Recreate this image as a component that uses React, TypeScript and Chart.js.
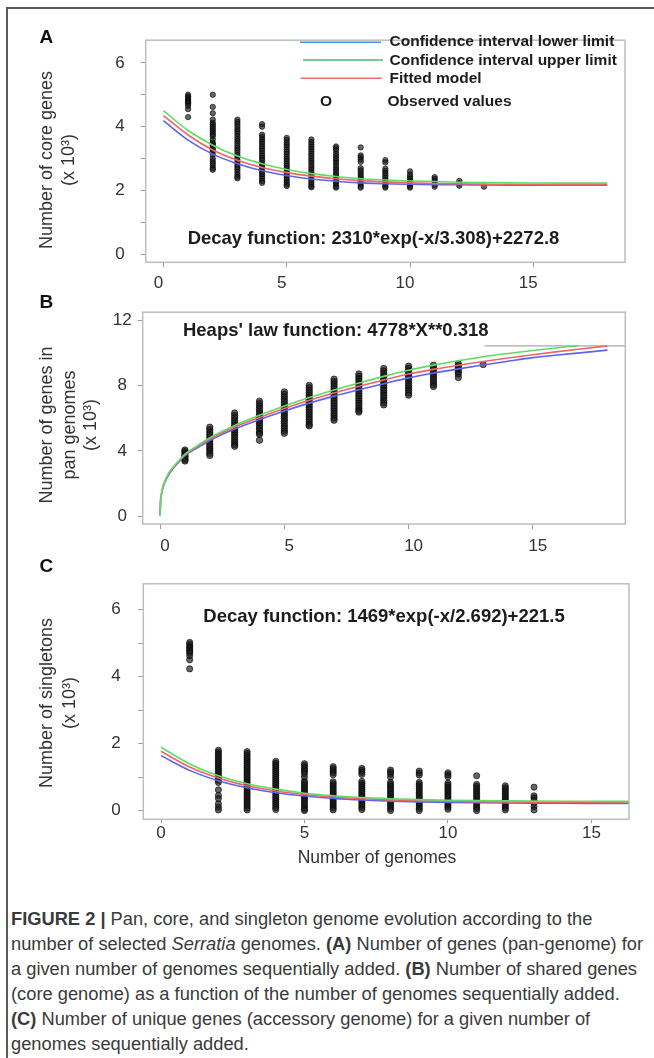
import React, { useEffect, useRef } from 'react';
import { Chart, registerables } from 'chart.js';

Chart.register(...registerables);

const FONT = '"Liberation Sans", Arial, Helvetica, sans-serif';

// ---------- shared ----------
const genomeCounts = [1, 2, 3, 4, 5, 6, 7, 8, 9, 10, 11, 12, 13];
const curveX = [0, 1, 2, 3, 4, 5, 6, 7, 8, 9, 10, 11, 12, 13, 14, 15, 16, 17, 18];
const xTickValues = [0, 5, 10, 15];
const xTickLabels = ['0', '5', '10', '15'];

// ---------- Panel A : core genes (x 10^3) ----------
const coreYTicks = [0, 1, 2, 3, 4, 5, 6];
const coreYLabels = ['0', '', '2', '', '4', '', '6'];
const coreObserved = [
  [5.0, 4.95, 4.9, 4.85, 4.8, 4.76, 4.72, 4.65, 4.55, 4.3],
  [5.0, 4.62, 4.42, 4.22, 4.12, 4.06, 4.0, 3.94, 3.88, 3.82, 3.76, 3.7, 3.6, 3.5, 3.45, 3.4, 3.34, 3.28, 3.22, 3.12, 3.0, 2.92, 2.85, 2.78, 2.7, 2.65],
  [4.22, 4.15, 4.08, 4.0, 3.92, 3.85, 3.78, 3.7, 3.62, 3.55, 3.48, 3.4, 3.33, 3.26, 3.18, 3.1, 3.03, 2.96, 2.88, 2.8, 2.73, 2.66, 2.58, 2.5, 2.43, 2.38],
  [4.08, 4.0, 3.75, 3.68, 3.6, 3.53, 3.46, 3.38, 3.31, 3.24, 3.16, 3.09, 3.02, 2.95, 2.87, 2.8, 2.73, 2.66, 2.58, 2.51, 2.44, 2.37, 2.3, 2.24],
  [3.65, 3.58, 3.5, 3.43, 3.36, 3.28, 3.21, 3.14, 3.06, 2.99, 2.92, 2.84, 2.77, 2.7, 2.62, 2.55, 2.48, 2.4, 2.33, 2.26, 2.19, 2.14],
  [3.6, 3.52, 3.45, 3.37, 3.3, 3.23, 3.15, 3.08, 3.0, 2.93, 2.86, 2.78, 2.71, 2.64, 2.56, 2.49, 2.42, 2.34, 2.27, 2.2, 2.13, 2.1],
  [3.38, 3.32, 3.25, 3.15, 3.08, 3.0, 2.93, 2.86, 2.78, 2.71, 2.64, 2.56, 2.49, 2.42, 2.34, 2.27, 2.2, 2.13, 2.09],
  [3.35, 3.1, 3.04, 2.97, 2.9, 2.7, 2.63, 2.56, 2.49, 2.42, 2.35, 2.28, 2.21, 2.14, 2.09],
  [2.95, 2.88, 2.68, 2.61, 2.54, 2.47, 2.4, 2.33, 2.26, 2.19, 2.13, 2.09],
  [2.6, 2.5, 2.43, 2.37, 2.31, 2.25, 2.19, 2.13, 2.09],
  [2.42, 2.36, 2.3, 2.24, 2.18, 2.12],
  [2.3, 2.22, 2.15],
  [2.12],
];
const coreLower = [4.19, 3.58, 3.14, 2.84, 2.62, 2.47, 2.36, 2.29, 2.24, 2.21, 2.195, 2.185, 2.18, 2.175, 2.17, 2.17, 2.17, 2.17, 2.17];
const coreUpper = [4.5, 3.88, 3.42, 3.08, 2.84, 2.66, 2.53, 2.44, 2.37, 2.33, 2.3, 2.28, 2.26, 2.25, 2.24, 2.235, 2.23, 2.23, 2.23];
const coreFitted = [4.35, 3.74, 3.27, 2.95, 2.72, 2.56, 2.45, 2.37, 2.31, 2.27, 2.24, 2.22, 2.21, 2.2, 2.19, 2.19, 2.18, 2.18, 2.18];

// ---------- Panel B : pan genome (x 10^3) ----------
const panYTicks = [0, 4, 8, 12];
const panYLabels = ['0', '4', '8', '12'];
const panObserved = [
  [4.05, 3.95, 3.85, 3.75, 3.65, 3.55, 3.45, 3.38],
  [5.45, 5.3, 5.15, 5.0, 4.85, 4.7, 4.55, 4.4, 4.25, 4.12, 4.0, 3.85, 3.72],
  [6.32, 6.17, 6.02, 5.87, 5.72, 5.57, 5.42, 5.27, 5.12, 4.97, 4.82, 4.67, 4.52, 4.38, 4.28],
  [7.05, 6.9, 6.75, 6.6, 6.45, 6.3, 6.15, 6.0, 5.85, 5.7, 5.55, 5.4, 5.25, 5.1, 5.02, 4.65],
  [7.62, 7.47, 7.32, 7.17, 7.02, 6.87, 6.72, 6.57, 6.42, 6.27, 6.12, 5.97, 5.82, 5.67, 5.52, 5.37, 5.22, 5.08],
  [8.02, 7.87, 7.72, 7.57, 7.42, 7.27, 7.12, 6.97, 6.82, 6.67, 6.52, 6.37, 6.22, 6.07, 5.92, 5.77, 5.62, 5.53],
  [8.4, 8.25, 8.1, 7.95, 7.8, 7.65, 7.5, 7.35, 7.2, 7.05, 6.9, 6.75, 6.6, 6.45, 6.3, 6.15, 6.0, 5.88],
  [8.72, 8.57, 8.42, 8.27, 8.12, 7.97, 7.82, 7.67, 7.52, 7.37, 7.22, 7.07, 6.92, 6.77, 6.62, 6.48, 6.38],
  [9.05, 8.9, 8.75, 8.6, 8.45, 8.3, 8.15, 8.0, 7.85, 7.7, 7.55, 7.4, 7.25, 7.1, 6.95, 6.82],
  [9.2, 9.05, 8.9, 8.75, 8.6, 8.45, 8.3, 8.15, 8.0, 7.85, 7.7, 7.55, 7.42],
  [9.26, 9.11, 8.96, 8.81, 8.66, 8.51, 8.36, 8.21, 8.06, 7.95],
  [9.35, 9.22, 9.1, 8.98, 8.85, 8.7, 8.5],
  [9.3],
];
const panCurveX = [0, 0.02, 0.05, 0.1, 0.2, 0.35, 0.5, 0.75, 1, 1.5, 2, 3, 4, 5, 6, 7, 8, 9, 10, 11, 12, 13, 14, 15, 16, 17, 18];
const panFitted = [0, 0.95, 1.3, 1.7, 2.15, 2.6, 2.92, 3.35, 3.75, 4.25, 4.72, 5.45, 6.05, 6.6, 7.1, 7.55, 7.96, 8.35, 8.72, 9.0, 9.25, 9.48, 9.7, 9.9, 10.09, 10.27, 10.44];
const panLower = [0, 0.93, 1.27, 1.66, 2.1, 2.55, 2.87, 3.3, 3.7, 4.18, 4.64, 5.34, 5.92, 6.45, 6.93, 7.36, 7.75, 8.12, 8.48, 8.77, 9.03, 9.27, 9.5, 9.72, 9.88, 10.03, 10.18];
const panUpperX = [0, 0.02, 0.05, 0.1, 0.2, 0.35, 0.5, 0.75, 1, 1.5, 2, 3, 4, 5, 6, 7, 8, 9, 10, 11, 12, 13, 14, 15, 16, 16.8];
const panUpper = [0, 0.97, 1.33, 1.73, 2.18, 2.64, 2.96, 3.4, 3.8, 4.32, 4.8, 5.56, 6.18, 6.75, 7.27, 7.74, 8.16, 8.57, 8.95, 9.26, 9.53, 9.78, 9.98, 10.16, 10.33, 10.44];
const panRefLineX = [13.05, 18.72];
const panRefLineY = [10.44, 10.44];

// ---------- Panel C : singletons (x 10^3) ----------
const singletonYTicks = [0, 1, 2, 3, 4, 5, 6];
const singletonYLabels = ['0', '', '2', '', '4', '', '6'];
const singletonObserved = [
  [5.02, 4.96, 4.9, 4.85, 4.8, 4.75, 4.7, 4.62, 4.5, 4.23],
  [1.8, 1.74, 1.68, 1.62, 1.56, 1.5, 1.44, 1.38, 1.32, 1.26, 1.2, 1.14, 1.08, 1.02, 0.96, 0.9, 0.84, 0.62, 0.45, 0.36, 0.2, 0.1, 0.02],
  [1.76, 1.7, 1.64, 1.58, 1.52, 1.46, 1.4, 1.34, 1.28, 1.22, 1.16, 1.1, 1.04, 0.98, 0.92, 0.86, 0.8, 0.74, 0.68, 0.62, 0.56, 0.5, 0.44, 0.38, 0.32, 0.26, 0.2, 0.14, 0.08, 0.02],
  [1.47, 1.41, 1.35, 1.29, 1.23, 1.17, 1.11, 1.05, 0.99, 0.93, 0.87, 0.81, 0.75, 0.69, 0.63, 0.57, 0.51, 0.45, 0.39, 0.33, 0.27, 0.21, 0.15, 0.09, 0.03],
  [1.4, 1.34, 1.28, 1.22, 1.16, 1.1, 1.0, 0.88, 0.82, 0.76, 0.7, 0.64, 0.58, 0.52, 0.46, 0.4, 0.34, 0.28, 0.22, 0.16, 0.1, 0.04, 0.0],
  [1.31, 1.25, 1.19, 1.13, 1.07, 0.86, 0.8, 0.74, 0.68, 0.62, 0.56, 0.5, 0.44, 0.38, 0.32, 0.26, 0.2, 0.14, 0.08, 0.02],
  [1.26, 1.2, 1.14, 1.08, 0.87, 0.81, 0.75, 0.69, 0.63, 0.57, 0.51, 0.45, 0.39, 0.33, 0.27, 0.21, 0.15, 0.09, 0.03],
  [1.21, 1.15, 1.09, 1.0, 0.84, 0.78, 0.72, 0.66, 0.6, 0.54, 0.48, 0.42, 0.36, 0.3, 0.24, 0.18, 0.12, 0.06, 0.0],
  [1.18, 1.12, 1.06, 0.84, 0.78, 0.72, 0.66, 0.6, 0.54, 0.48, 0.42, 0.36, 0.3, 0.24, 0.18, 0.12, 0.06, 0.0],
  [1.13, 1.07, 1.01, 0.82, 0.76, 0.7, 0.64, 0.58, 0.52, 0.46, 0.4, 0.34, 0.28, 0.22, 0.16, 0.1, 0.04],
  [1.04, 0.78, 0.72, 0.66, 0.6, 0.54, 0.48, 0.42, 0.36, 0.3, 0.24, 0.18, 0.12, 0.06, 0.0],
  [0.74, 0.68, 0.62, 0.56, 0.5, 0.44, 0.38, 0.32, 0.26, 0.2, 0.14, 0.08, 0.02],
  [0.7, 0.44, 0.38, 0.3, 0.22, 0.12, 0.02],
];
const singletonLower = [1.64, 1.2, 0.89, 0.68, 0.535, 0.434, 0.365, 0.317, 0.284, 0.261, 0.245, 0.234, 0.227, 0.222, 0.219, 0.216, 0.215, 0.214, 0.213];
const singletonUpper = [1.89, 1.39, 1.04, 0.8, 0.64, 0.52, 0.445, 0.39, 0.354, 0.328, 0.31, 0.298, 0.289, 0.283, 0.279, 0.277, 0.275, 0.274, 0.273];
const singletonFitted = [1.77, 1.3, 0.97, 0.74, 0.587, 0.48, 0.405, 0.354, 0.319, 0.294, 0.277, 0.266, 0.258, 0.253, 0.249, 0.247, 0.245, 0.244, 0.243];

// ---------- styling ----------
const BLUE = '#5f63f0';
const GREEN = '#5edc66';
const RED = '#f06464';
const TEXT = '#333333';

type TextItem = { text: string; x: number; y: number; font: string; align?: CanvasTextAlign; rotate?: boolean; color?: string };
type LegendLine = { color: string; x1: number; x2: number; y: number };

const decorPlugin = {
  id: 'panelDecor',
  afterDraw(chart: any, _args: any, opts: any) {
    const { ctx, chartArea: a } = chart;
    ctx.save();
    ctx.strokeStyle = '#bdbdbd';
    ctx.lineWidth = 1.5;
    ctx.strokeRect(a.left, a.top, a.right - a.left, a.bottom - a.top);
    (opts.lines || []).forEach((l: LegendLine) => {
      ctx.beginPath();
      ctx.strokeStyle = l.color;
      ctx.lineWidth = 1.6;
      ctx.moveTo(l.x1, l.y);
      ctx.lineTo(l.x2, l.y);
      ctx.stroke();
    });
    (opts.texts || []).forEach((t: TextItem) => {
      ctx.save();
      ctx.font = t.font;
      ctx.fillStyle = t.color || TEXT;
      ctx.textAlign = t.align || 'center';
      ctx.textBaseline = 'middle';
      ctx.translate(t.x, t.y);
      if (t.rotate) ctx.rotate(-Math.PI / 2);
      ctx.fillText(t.text, 0, 0);
      ctx.restore();
    });
    ctx.restore();
  },
};

const toPoints = (xs: number[], ys: number[][]) => xs.flatMap((x, i) => ys[i].map((y) => ({ x, y })));
const toLine = (xs: number[], ys: number[]) => ys.map((y, i) => ({ x: xs[i], y }));

const lineDs = (label: string, data: any[], color: string, width = 1.6) => ({
  type: 'scatter' as const,
  label,
  data,
  showLine: true,
  borderColor: color,
  backgroundColor: color,
  borderWidth: width,
  pointRadius: 0,
  cubicInterpolationMode: 'monotone' as const,
});

const obsDs = (data: any[], radius: number) => ({
  type: 'scatter' as const,
  label: 'Observed values',
  data,
  pointRadius: radius,
  pointBorderWidth: 1,
  backgroundColor: 'rgba(30,30,30,0.68)',
  borderColor: 'rgba(0,0,0,0.6)',
});

type Spec = {
  datasets: any[];
  xMin: number; xMax: number;
  yMin: number; yMax: number;
  yTicks: number[]; yLabels: string[];
  yWidth: number; yPad: number;
  xHeight: number; xPad: number; xTickLen: number; xLabelOffset: number;
  padTop: number; padRight: number; padBottom: number;
  texts: TextItem[];
  lines?: LegendLine[];
};

function makeConfig(s: Spec): any {
  return {
    type: 'scatter',
    data: { datasets: s.datasets },
    plugins: [decorPlugin],
    options: {
      animation: false,
      responsive: false,
      devicePixelRatio: 1,
      events: [],
      layout: { padding: { left: 0, right: s.padRight, top: s.padTop, bottom: s.padBottom } },
      plugins: {
        legend: { display: false },
        tooltip: { enabled: false },
        panelDecor: { texts: s.texts, lines: s.lines || [] },
      },
      scales: {
        x: {
          type: 'linear',
          min: s.xMin,
          max: s.xMax,
          afterFit: (sc: any) => { sc.height = s.xHeight; },
          afterBuildTicks: (sc: any) => { sc.ticks = xTickValues.map((v) => ({ value: v })); },
          ticks: {
            autoSkip: false,
            maxRotation: 0,
            padding: s.xPad,
            labelOffset: s.xLabelOffset,
            color: TEXT,
            font: { family: FONT, size: 17 },
            callback: (_v: any, i: number) => xTickLabels[i],
          },
          grid: { drawOnChartArea: false, drawTicks: true, tickLength: s.xTickLen, color: '#9e9e9e', lineWidth: 1 },
          border: { display: false },
        },
        y: {
          type: 'linear',
          min: s.yMin,
          max: s.yMax,
          afterFit: (sc: any) => { sc.width = s.yWidth; },
          afterBuildTicks: (sc: any) => { sc.ticks = s.yTicks.map((v) => ({ value: v })); },
          ticks: {
            autoSkip: false,
            padding: s.yPad,
            crossAlign: 'center',
            color: TEXT,
            font: { family: FONT, size: 17 },
            callback: (_v: any, i: number) => s.yLabels[i],
          },
          grid: { drawOnChartArea: false, drawTicks: true, tickLength: 5, color: '#9e9e9e', lineWidth: 1 },
          border: { display: false },
        },
      },
    },
  };
}

const specA: Spec = {
  datasets: [
    lineDs('Confidence interval upper limit', toLine(curveX, coreUpper), GREEN),
    lineDs('Fitted model', toLine(curveX, coreFitted), RED),
    lineDs('Confidence interval lower limit', toLine(curveX, coreLower), BLUE),
    obsDs(toPoints(genomeCounts, coreObserved), 2.7),
  ],
  xMin: -0.72, xMax: 18.72, yMin: -0.25, yMax: 6.71,
  yTicks: coreYTicks, yLabels: coreYLabels, yWidth: 145.7, yPad: 16,
  xHeight: 30, xPad: 5.5, xTickLen: 5, xLabelOffset: -5,
  padTop: 16.7, padRight: 29, padBottom: 7.7,
  texts: [
    { text: 'Number of core genes', x: 47, y: 146, font: `18px ${FONT}`, rotate: true },
    { text: '(x 10³)', x: 69, y: 146, font: `18px ${FONT}`, rotate: true },
    { text: 'Decay function: 2310*exp(-x/3.308)+2272.8', x: 373.5, y: 224.5, font: `bold 18.5px ${FONT}`, color: '#1c1c1c' },
    { text: 'Confidence interval lower limit', x: 389.5, y: 28, font: `bold 15.5px ${FONT}`, align: 'left', color: '#1c1c1c' },
    { text: 'Confidence interval upper limit', x: 389.5, y: 46.5, font: `bold 15.5px ${FONT}`, align: 'left', color: '#1c1c1c' },
    { text: 'Fitted model', x: 389.5, y: 64.5, font: `bold 15.5px ${FONT}`, align: 'left', color: '#1c1c1c' },
    { text: 'O', x: 326, y: 88, font: `bold 15.5px ${FONT}`, color: '#1c1c1c' },
    { text: 'Observed values', x: 387.5, y: 88, font: `bold 15.5px ${FONT}`, align: 'left', color: '#1c1c1c' },
  ],
  lines: [
    { color: '#4a8fdc', x1: 300, x2: 381, y: 28.3 },
    { color: '#46b87a', x1: 303, x2: 383, y: 46 },
    { color: '#f06a6a', x1: 300.7, x2: 381.7, y: 64.3 },
  ],
};

const specB: Spec = {
  datasets: [
    lineDs('Confidence interval upper limit', toLine(panUpperX, panUpper), GREEN),
    lineDs('Fitted model', toLine(panCurveX, panFitted), RED),
    lineDs('Confidence interval lower limit', toLine(panCurveX, panLower), BLUE),
    lineDs('reference', toLine(panRefLineX, panRefLineY), '#a8a8a8', 1.2),
    obsDs(toPoints(genomeCounts, panObserved), 3.2),
  ],
  xMin: -0.7, xMax: 18.72, yMin: -0.49, yMax: 12.51,
  yTicks: panYTicks, yLabels: panYLabels, yWidth: 142.7, yPad: 6,
  xHeight: 32, xPad: 7.5, xTickLen: 5, xLabelOffset: 5,
  padTop: 7.3, padRight: 28.7, padBottom: 8,
  texts: [
    { text: 'Number of genes in', x: 47, y: 129, font: `18px ${FONT}`, rotate: true },
    { text: 'pan genomes', x: 70, y: 129, font: `18px ${FONT}`, rotate: true },
    { text: '(x 10³)', x: 91, y: 129, font: `18px ${FONT}`, rotate: true },
    { text: "Heaps' law function: 4778*X**0.318", x: 335.8, y: 34.7, font: `bold 18.5px ${FONT}`, color: '#1c1c1c' },
  ],
};

const specC: Spec = {
  datasets: [
    lineDs('Confidence interval upper limit', toLine(curveX, singletonUpper), GREEN),
    lineDs('Fitted model', toLine(curveX, singletonFitted), RED),
    lineDs('Confidence interval lower limit', toLine(curveX, singletonLower), BLUE),
    obsDs(toPoints(genomeCounts, singletonObserved), 3.1),
  ],
  xMin: -0.617, xMax: 16.31, yMin: -0.26, yMax: 6.77,
  yTicks: singletonYTicks, yLabels: singletonYLabels, yWidth: 143.3, yPad: 17.6,
  xHeight: 48, xPad: 0, xTickLen: 4, xLabelOffset: 0,
  padTop: 9, padRight: 25, padBottom: 8.7,
  texts: [
    { text: 'Number of singletons', x: 47, y: 147, font: `18px ${FONT}`, rotate: true },
    { text: '(x 10³)', x: 70, y: 147, font: `18px ${FONT}`, rotate: true },
    { text: 'Decay function: 1469*exp(-x/2.692)+221.5', x: 384, y: 60.7, font: `bold 18.5px ${FONT}`, color: '#1c1c1c' },
    { text: 'Number of genomes', x: 377, y: 302, font: `17.5px ${FONT}` },
  ],
};

function Panel({ top, height, spec }: { top: number; height: number; spec: Spec }) {
  const ref = useRef<HTMLCanvasElement>(null);
  useEffect(() => {
    if (!ref.current) return;
    const chart = new Chart(ref.current, makeConfig(spec));
    return () => chart.destroy();
  }, [spec]);
  return (
    <canvas
      ref={ref}
      width={654}
      height={height}
      style={{ position: 'absolute', left: 0, top, width: 654, height }}
    />
  );
}

const letterStyle: React.CSSProperties = {
  position: 'absolute',
  left: 39.5,
  fontFamily: FONT,
  fontWeight: 'bold',
  fontSize: 19,
  lineHeight: '19px',
  color: '#111',
};

export default function App() {
  return (
    <div style={{ position: 'absolute', left: 0, top: 0, width: 654, height: 1058, overflow: 'hidden', background: '#fff' }}>
      <div style={{ position: 'absolute', left: 6, top: 7, width: 700, height: 1100, border: '2px solid #5a5a5a' }} />
      <Panel top={14} height={286} spec={specA} />
      <Panel top={296} height={268} spec={specB} />
      <Panel top={556} height={320} spec={specC} />
      <div style={{ ...letterStyle, top: 27 }}>A</div>
      <div style={{ ...letterStyle, top: 292 }}>B</div>
      <div style={{ ...letterStyle, top: 556 }}>C</div>
      <div
        style={{
          position: 'absolute',
          left: 11,
          top: 906,
          fontFamily: FONT,
          fontSize: 18.3,
          lineHeight: '25px',
          color: '#3a3a3a',
          whiteSpace: 'nowrap',
        }}
      >
        <b>FIGURE 2 |</b> Pan, core, and singleton genome evolution according to the
        <br />
        number of selected <i>Serratia</i> genomes. <b>(A)</b> Number of genes (pan-genome) for
        <br />
        a given number of genomes sequentially added. <b>(B)</b> Number of shared genes
        <br />
        (core genome) as a function of the number of genomes sequentially added.
        <br />
        <b>(C)</b> Number of unique genes (accessory genome) for a given number of
        <br />
        genomes sequentially added.
      </div>
    </div>
  );
}
